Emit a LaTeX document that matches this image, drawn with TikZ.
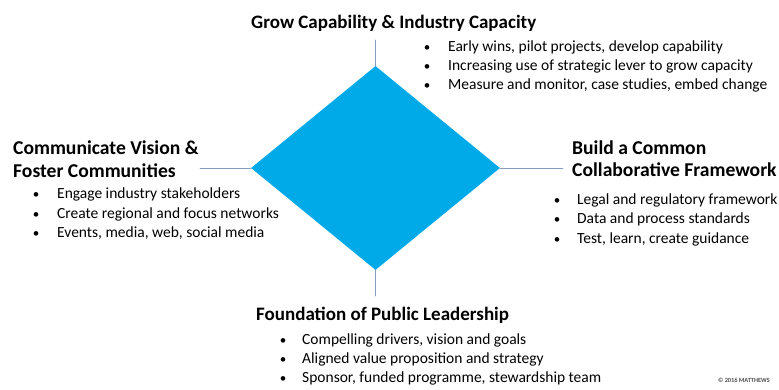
\documentclass[tikz,border=0pt]{standalone}
\usepackage{fontspec}
\setmainfont{Carlito}
\usetikzlibrary{shapes.geometric}
\definecolor{kiteblue}{RGB}{0,170,232}
\definecolor{linkgray}{RGB}{135,155,190}

\begin{document}
\begin{tikzpicture}[x=1pt,y=-1pt,line join=round,line cap=round,
  head/.style={anchor=base west,inner sep=0pt,font=\fontsize{19}{22}\selectfont\bfseries},
  sidehead/.style={head,font=\fontsize{19.6}{22}\selectfont\bfseries},
  item/.style={anchor=base west,inner sep=0pt,font=\fontsize{15.5}{18}\selectfont},
  dot/.style={anchor=base,inner sep=0pt,font=\fontsize{13}{16}\selectfont},
  link/.style={draw=linkgray,line width=0.8pt}]
\useasboundingbox (0,0) rectangle (779,389);
\node[diamond,fill=kiteblue,minimum width=249pt,minimum height=204pt,inner sep=0pt] (core) at (375.5,168) {};
\coordinate (topend) at (375.5,40);
\coordinate (botend) at (375.5,296);
\coordinate (leftend) at (200,168);
\coordinate (rightend) at (563,168);
\draw[link] (core.north)--(topend) (core.south)--(botend);
\draw[link] (core.west)--(leftend) (core.east)--(rightend);
% headings
\node[head] (grow) at (251,28.5) {Grow Capability \& Industry Capacity};
\node[sidehead] (comm) at (13,154.5) {Communicate Vision \&};
\node[sidehead] (foster) at (13,177.5) {Foster Communities};
\node[sidehead] (build) at (572,154.5) {Build a Common};
\node[sidehead] (collab) at (572,176.5) {Collaborative Framework};
\node[head] (found) at (256,320) {Foundation of Public Leadership};
% bullet lists
\foreach \y/\txt [count=\i] in {51/{Early wins, pilot projects, develop capability},
  70/{Increasing use of strategic lever to grow capacity},
  89/{Measure and monitor, case studies, embed change}}{
  \node[dot] (gb\i) at (427,\y) {\textbullet};
  \node[item] (g\i) at (448,\y) {\txt};}
\foreach \y/\txt [count=\i] in {198.5/{Engage industry stakeholders},
  218/{Create regional and focus networks},
  237.5/{Events, media, web, social media}}{
  \node[dot] (cb\i) at (36,\y) {\textbullet};
  \node[item] (c\i) at (57,\y) {\txt};}
\foreach \y/\txt [count=\i] in {204/{Legal and regulatory framework},
  223.5/{Data and process standards},
  243/{Test, learn, create guidance}}{
  \node[dot] (bb\i) at (557,\y) {\textbullet};
  \node[item] (b\i) at (577,\y) {\txt};}
\foreach \y/\txt [count=\i] in {344.5/{Compelling drivers, vision and goals},
  363.5/{Aligned value proposition and strategy},
  382.5/{Sponsor, funded programme, stewardship team}}{
  \node[dot] (fb\i) at (283,\y) {\textbullet};
  \node[item] (f\i) at (302,\y) {\txt};}
\node[anchor=base east,inner sep=0pt,font=\fontsize{6.3}{7}\selectfont\bfseries,text=black!70] (copy) at (770,382) {\textcopyright\ 2016 MATTHEWS};
\end{tikzpicture}
\end{document}
